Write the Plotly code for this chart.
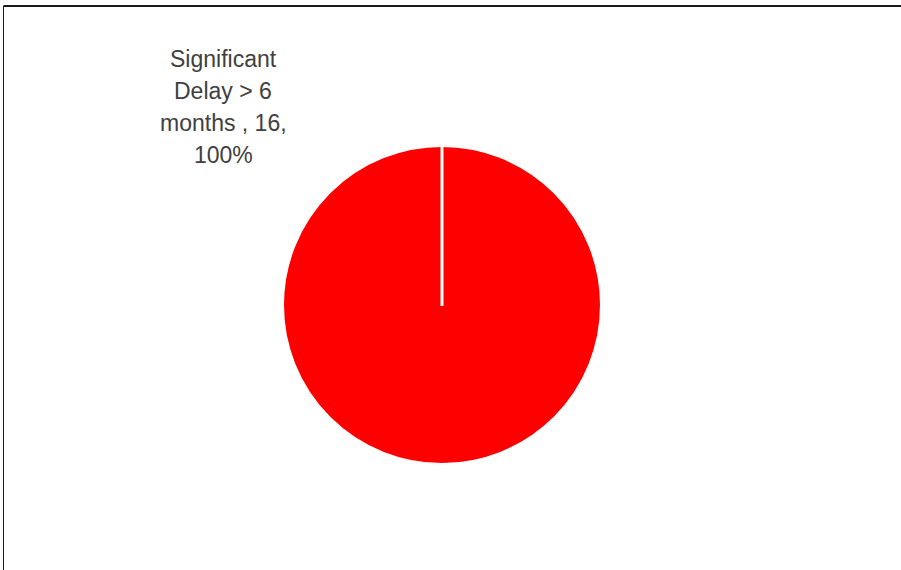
import plotly.graph_objects as go

labels = ["Significant Delay > 6 months "]
values = [16]
colors = ["#FF0000"]

W, H = 901, 570
dom_x = [0.3135, 0.6676]
dom_y = [0.1851, 0.7447]

total = sum(values)
pct = [round(v / total * 100) for v in values]

fig = go.Figure(go.Pie(
    labels=labels, values=values, sort=False, direction="clockwise",
    marker=dict(colors=colors, line=dict(color="white", width=3)),
    textinfo="none", hoverinfo="label+value+percent",
    domain=dict(x=dom_x, y=dom_y), showlegend=False,
))

# radial border line of the single full slice (from centre to 12 o'clock)
cx = (dom_x[0] + dom_x[1]) / 2
cy = (dom_y[0] + dom_y[1]) / 2
r_px = min((dom_x[1] - dom_x[0]) * W, (dom_y[1] - dom_y[0]) * H) / 2
fig.add_shape(type="line", xref="paper", yref="paper",
              x0=cx, x1=cx, y0=cy - 1 / H, y1=cy + (r_px + 2) / H,
              line=dict(color="white", width=3))

# chart border (top and left visible)
fig.add_shape(type="line", xref="paper", yref="paper",
              x0=3.5 / W, x1=1.02, y0=(H - 6) / H, y1=(H - 6) / H,
              line=dict(color="#1a1a1a", width=2))
fig.add_shape(type="line", xref="paper", yref="paper",
              x0=3.5 / W, x1=3.5 / W, y0=-0.02, y1=(H - 6) / H,
              line=dict(color="#1a1a1a", width=1))

# outside data label, wrapped as in the reference
label_lines = ["Significant", "Delay > 6",
               "months , {},".format(values[0]), "{}%".format(pct[0])]
first_mid = 59      # px from top, centre of first line
line_step = 32      # px between lines
for i, line in enumerate(label_lines):
    fig.add_annotation(xref="paper", yref="paper", x=223 / W,
                       y=(H - (first_mid + i * line_step)) / H,
                       text=line, showarrow=False, align="center",
                       xanchor="center", yanchor="middle",
                       font=dict(family="Liberation Sans, Arial",
                                 size=23, color="#404040"))

fig.update_layout(width=W, height=H, margin=dict(l=0, r=0, t=0, b=0),
                  paper_bgcolor="white", plot_bgcolor="white")
fig.write_html("out.html", config={"displayModeBar": False},
               post_script="document.body.style.margin='0px';document.body.style.overflow='hidden';")
